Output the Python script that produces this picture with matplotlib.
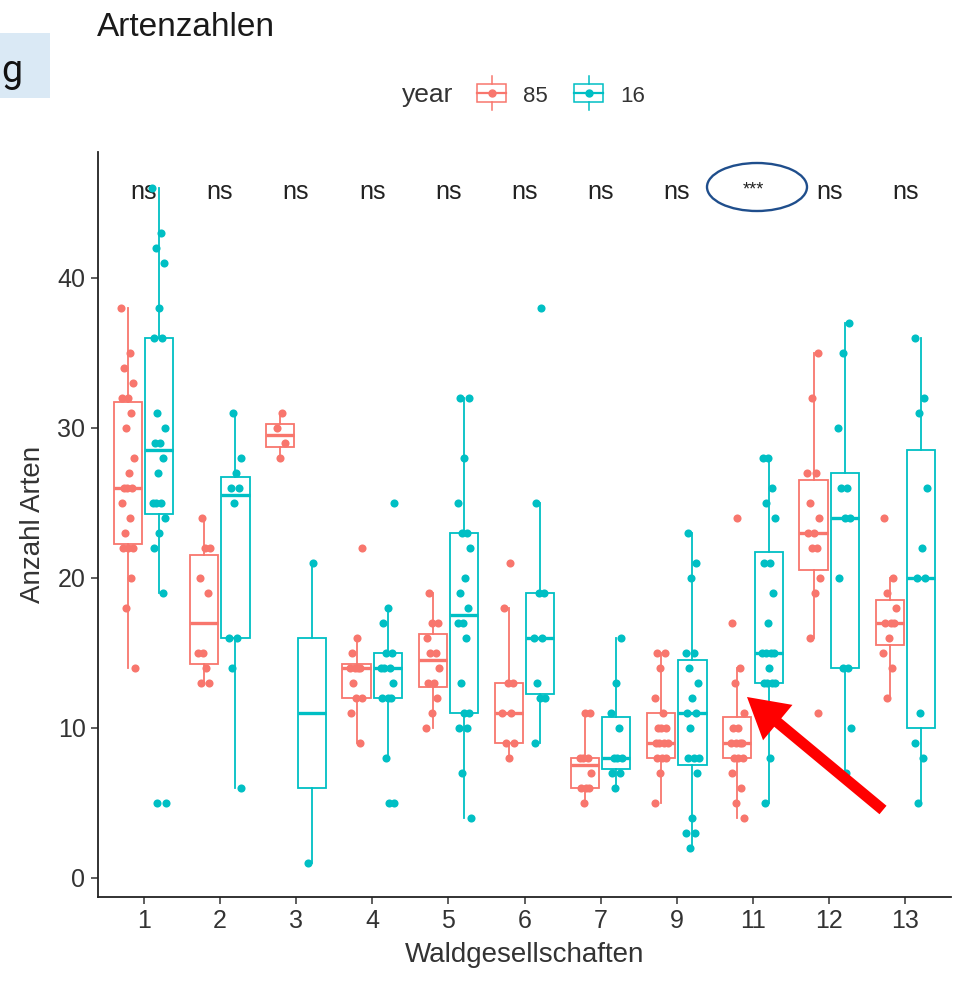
import matplotlib
matplotlib.use("Agg")
import matplotlib.pyplot as plt
import numpy as np
from matplotlib.patches import Rectangle, Ellipse, FancyArrow
from matplotlib.lines import Line2D

plt.rcParams["font.family"] = ["Liberation Sans", "DejaVu Sans"]

# ---- data -------------------------------------------------------------
groups = ["1", "2", "3", "4", "5", "6", "7", "9", "11", "12", "13"]
years = ["85", "16"]

arten_85 = [
    [38, 35, 34, 33, 32, 32, 31, 30, 28, 27, 26, 26, 26, 25, 24, 23, 22, 22, 22, 20, 18, 14],
    [24, 22, 22, 20, 19, 15, 15, 14, 13, 13],
    [31, 30, 29, 28],
    [22, 16, 15, 14, 14, 14, 14, 13, 12, 12, 11, 9],
    [19, 17, 17, 16, 15, 15, 14, 13, 13, 12, 11, 10],
    [21, 18, 13, 13, 11, 11, 9, 9, 8],
    [11, 11, 8, 8, 8, 7, 6, 6, 6, 5],
    [15, 15, 14, 12, 11, 10, 10, 10, 9, 9, 9, 9, 8, 8, 8, 7, 5],
    [24, 17, 14, 13, 11, 10, 10, 9, 9, 9, 9, 8, 8, 8, 7, 6, 5, 4],
    [35, 32, 27, 27, 25, 24, 23, 23, 22, 22, 20, 19, 16, 11],
    [24, 20, 19, 18, 17, 17, 17, 16, 15, 14, 12],
]
arten_16 = [
    [46, 43, 42, 41, 38, 36, 36, 31, 30, 29, 29, 28, 27, 25, 25, 25, 24, 23, 22, 19, 5, 5],
    [31, 28, 27, 26, 26, 25, 16, 16, 14, 6],
    [21, 1],
    [25, 18, 17, 15, 15, 14, 14, 14, 13, 12, 12, 12, 8, 5, 5],
    [32, 32, 28, 25, 23, 23, 22, 20, 19, 18, 17, 17, 16, 13, 11, 11, 10, 10, 7, 4],
    [38, 25, 19, 19, 16, 16, 13, 12, 12, 9],
    [16, 13, 11, 10, 8, 8, 8, 7, 7, 6],
    [23, 21, 20, 15, 15, 14, 13, 12, 11, 11, 10, 8, 8, 8, 7, 4, 3, 3, 2],
    [28, 28, 26, 25, 24, 21, 21, 19, 17, 15, 15, 15, 15, 14, 13, 13, 13, 13, 8, 5],
    [37, 35, 30, 26, 26, 24, 24, 20, 14, 14, 10, 7],
    [36, 32, 31, 26, 22, 20, 20, 11, 9, 8, 5],
]
signif = ["ns", "ns", "ns", "ns", "ns", "ns", "ns", "ns", "***", "ns", "ns"]

# ---- styling ----------------------------------------------------------
W, H = 959, 981
COL = {"85": "#F8766D", "16": "#00BFC4"}
TXT = "#333333"

fig = plt.figure(figsize=(W / 100, H / 100), dpi=100)


def px_rect(l, t, r, b):
    return [l / W, 1 - b / H, (r - l) / W, (b - t) / H]


def fpx(x, y):
    return x / W, 1 - y / H


ax = fig.add_axes(px_rect(98, 152, 951, 897))

pos = np.arange(len(groups))
dodge = 0.205
box_w = 0.37
jit = 0.09

for series, year, off in ((arten_85, "85", -dodge), (arten_16, "16", dodge)):
    c = COL[year]
    ax.boxplot(series, positions=pos + off, widths=box_w, whis=1.5,
               showfliers=False, showcaps=False, patch_artist=True,
               manage_ticks=False,
               boxprops=dict(facecolor="white", edgecolor=c, linewidth=1.3),
               whiskerprops=dict(color=c, linewidth=1.3),
               medianprops=dict(color=c, linewidth=2.4))
    for g, vals in enumerate(series):
        k = np.arange(len(vals))
        xo = jit * (((k * 0.6180339887 + 0.31 * g) % 1.0) * 2 - 1)
        ax.scatter(pos[g] + off + xo, vals, s=34, color=c, zorder=4,
                   linewidths=0)

for g, lab in enumerate(signif):
    if lab == "ns":
        ax.text(pos[g], 45.75, lab, ha="center", va="center", fontsize=18,
                color="#222222")
    else:
        ax.text(pos[g], 45.9, lab, ha="center", va="center", fontsize=13,
                color="#222222")

ax.set_xlim(-0.6, len(groups) - 0.4)
ax.set_ylim(-1.27, 48.4)
ax.set_xticks(pos, groups)
ax.set_yticks([0, 10, 20, 30, 40])
for s in ("top", "right"):
    ax.spines[s].set_visible(False)
for s in ("left", "bottom"):
    ax.spines[s].set_color("#222222")
    ax.spines[s].set_linewidth(1.3)
ax.tick_params(axis="both", length=5, width=1.1, color="#333333",
               labelsize=18, labelcolor=TXT, pad=4)
ax.set_xlabel("Waldgesellschaften", fontsize=20, color=TXT, labelpad=6)
ax.set_ylabel("Anzahl Arten", fontsize=20, color=TXT, labelpad=8)

# ---- title ------------------------------------------------------------
fig.text(*fpx(97, 36), "Artenzahlen", fontsize=24, color="#1a1a1a",
         va="baseline", ha="left")

# ---- legend -----------------------------------------------------------
fig.text(*fpx(402, 102), "year", fontsize=19, color=TXT, va="baseline",
         ha="left")


def draw_key(x0, year):
    c = COL[year]
    x1, x2 = x0 + 3, x0 + 32
    xm = (x1 + x2) / 2
    yt, yb, ym = 84, 102, 93
    fig.add_artist(Rectangle(fpx(x1, yb), (x2 - x1) / W, (yb - yt) / H,
                             transform=fig.transFigure, facecolor="white",
                             edgecolor=c, linewidth=1.1))
    fig.add_artist(Line2D([x1 / W, x2 / W], [1 - ym / H] * 2,
                          transform=fig.transFigure, color=c, linewidth=1.6))
    for ya, yb2 in ((76, yt), (yb, 110)):
        fig.add_artist(Line2D([xm / W] * 2, [1 - ya / H, 1 - yb2 / H],
                              transform=fig.transFigure, color=c,
                              linewidth=1.1))
    fig.add_artist(Line2D([xm / W], [1 - ym / H], transform=fig.transFigure,
                          marker="o", markersize=5, color=c, linewidth=0))


draw_key(474, "85")
fig.text(*fpx(523, 102), "85", fontsize=16, color=TXT, va="baseline")
draw_key(571, "16")
fig.text(*fpx(620, 102), "16", fontsize=16, color=TXT, va="baseline")

# ---- side tab, highlight ellipse and arrow ---------------------------
fig.add_artist(Rectangle(fpx(0, 98), 50 / W, 65 / H,
                         transform=fig.transFigure, facecolor="#DAE9F5",
                         edgecolor="none"))
fig.text(*fpx(1, 82), "g", fontsize=27, color="#111111", va="baseline",
         ha="left", family=["Roboto", "DejaVu Sans"])

inch = fig.dpi_scale_trans
fig.add_artist(Ellipse((7.57, (H - 187) / 100), 1.0, 0.48, transform=inch,
                       fill=False, edgecolor="#1F4E8C", linewidth=1.7))
tail = np.array([8.83, (H - 810) / 100])
tip = np.array([7.47, (H - 697) / 100])
fig.add_artist(FancyArrow(tail[0], tail[1], *(tip - tail), width=0.11,
                          head_width=0.46, head_length=0.40,
                          length_includes_head=True, transform=inch,
                          color="#FF0000", linewidth=0))

fig.savefig("out.png", dpi=100, facecolor="white")
